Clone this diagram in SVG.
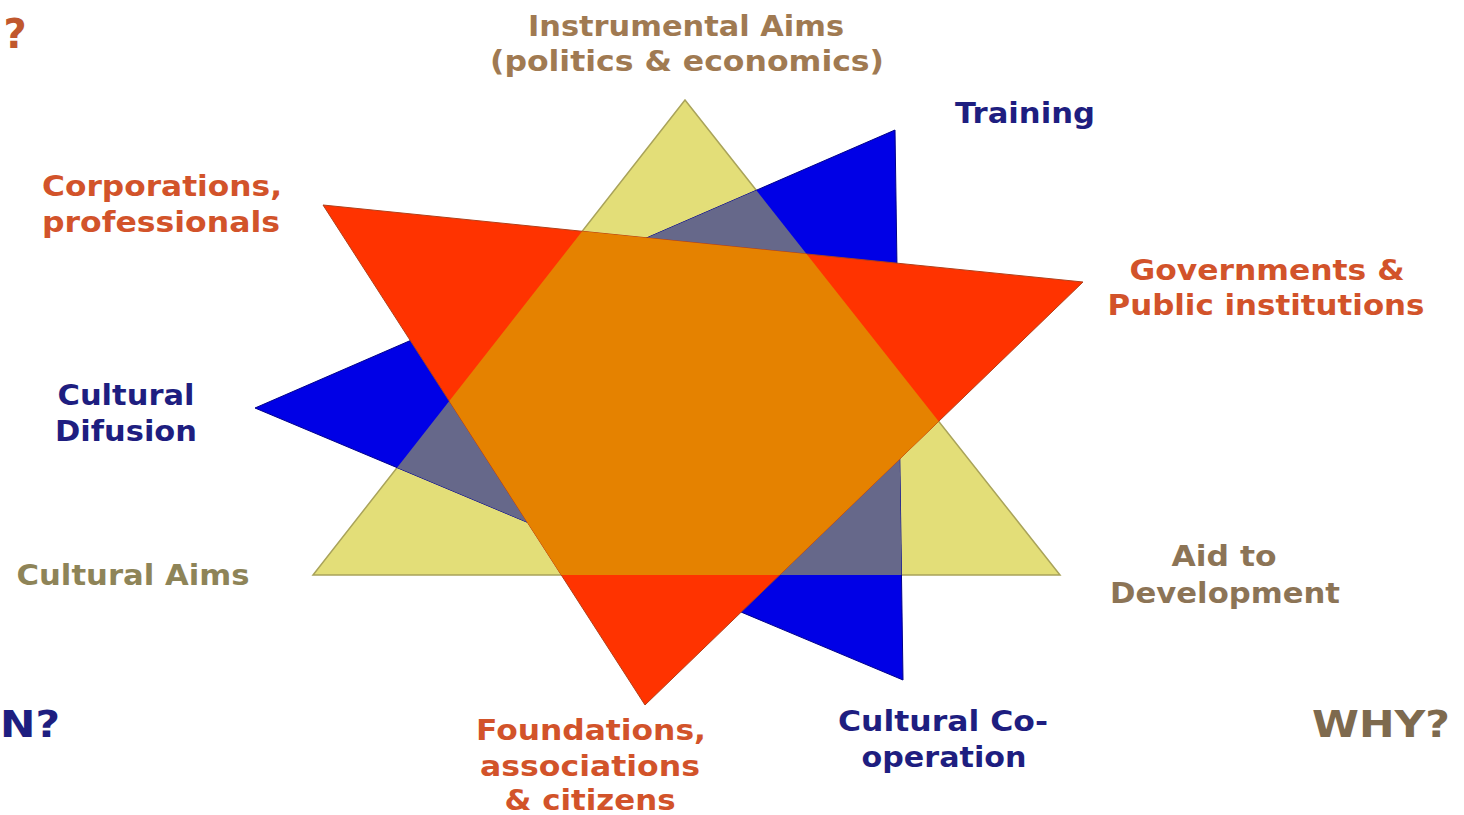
<svg xmlns="http://www.w3.org/2000/svg" width="1464" height="815" viewBox="0 0 1464 815">
<style>
text{font-family:"DejaVu Sans","Liberation Sans",sans-serif;font-weight:bold;font-size:28px;text-anchor:middle}
.red{fill:#D2532A}
.blue{fill:#1E1E80}
.tan{fill:#A07A52}
.olive{fill:#8E8458}
.brown{fill:#8C7456}
</style>
<defs>
<clipPath id="clipYellow"><polygon points="685,100 1060,575 313,575"/></clipPath>
</defs>
<rect width="1464" height="815" fill="#FFFFFF"/>
<g id="star">
<g id="tri-yellow"><polygon points="685,100 1060,575 313,575" fill="#E3DE78" stroke="#A9A35A" stroke-width="1.5"/></g>
<g id="tri-blue"><polygon points="895,130 903,680 255,408" fill="#0000E6" stroke="#00008A" stroke-width="1"/></g>
<g id="overlap-grey"><polygon points="895,130 903,680 255,408" fill="#66688A" clip-path="url(#clipYellow)"/></g>
<g id="tri-red"><polygon points="323,205 1083,282 645,705" fill="#FF3300" stroke="#B0401A" stroke-width="1"/></g>
<g id="overlap-orange"><polygon points="323,205 1083,282 645,705" fill="#E58200" clip-path="url(#clipYellow)"/></g>
</g>
<g id="connectors"/>
<g id="label-q"><text x="15" y="48" style="font-size:40px;fill:#C0582E">?</text></g>
<g id="label-instrumental" class="tan">
<text x="686" y="36" textLength="316" lengthAdjust="spacingAndGlyphs">Instrumental Aims</text>
<text x="687" y="71" textLength="394" lengthAdjust="spacingAndGlyphs">(politics &amp; economics)</text>
</g>
<g id="label-training" class="blue"><text x="1025" y="123" textLength="140" lengthAdjust="spacingAndGlyphs">Training</text></g>
<g id="label-corporations" class="red">
<text x="162" y="196" textLength="240" lengthAdjust="spacingAndGlyphs">Corporations,</text>
<text x="161" y="232" textLength="238" lengthAdjust="spacingAndGlyphs">professionals</text>
</g>
<g id="label-governments" class="red">
<text x="1267" y="280" textLength="275" lengthAdjust="spacingAndGlyphs">Governments &amp;</text>
<text x="1266" y="315" textLength="317" lengthAdjust="spacingAndGlyphs">Public institutions</text>
</g>
<g id="label-difusion" class="blue">
<text x="126" y="405" textLength="137" lengthAdjust="spacingAndGlyphs">Cultural</text>
<text x="126" y="441" textLength="142" lengthAdjust="spacingAndGlyphs">Difusion</text>
</g>
<g id="label-cultural-aims" class="olive"><text x="133" y="585" textLength="233" lengthAdjust="spacingAndGlyphs">Cultural Aims</text></g>
<g id="label-aid" class="brown">
<text x="1224" y="566" textLength="105" lengthAdjust="spacingAndGlyphs">Aid to</text>
<text x="1225" y="603" textLength="230" lengthAdjust="spacingAndGlyphs">Development</text>
</g>
<g id="label-foundations" class="red">
<text x="591" y="740" textLength="230" lengthAdjust="spacingAndGlyphs">Foundations,</text>
<text x="590" y="776" textLength="220" lengthAdjust="spacingAndGlyphs">associations</text>
<text x="590" y="810" textLength="171" lengthAdjust="spacingAndGlyphs">&amp; citizens</text>
</g>
<g id="label-cooperation" class="blue">
<text x="943" y="731" textLength="210" lengthAdjust="spacingAndGlyphs">Cultural Co-</text>
<text x="944" y="767" textLength="165" lengthAdjust="spacingAndGlyphs">operation</text>
</g>
<g id="label-why"><text x="1381" y="737" style="font-size:38px;fill:#7E6A4E" textLength="138" lengthAdjust="spacingAndGlyphs">WHY?</text></g>
<g id="label-how"><text x="30" y="737" class="blue" style="font-size:38px" textLength="60" lengthAdjust="spacingAndGlyphs">N?</text></g>
</svg>
